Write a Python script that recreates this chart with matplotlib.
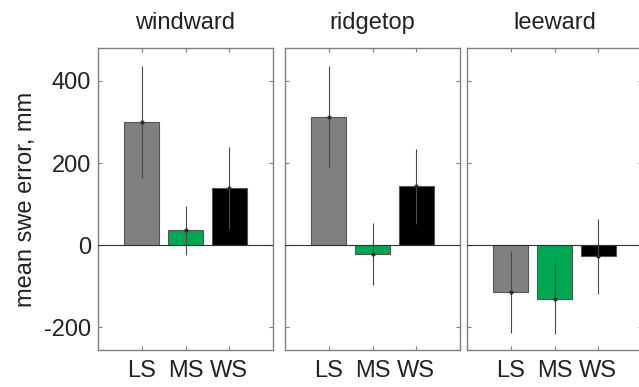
import matplotlib
matplotlib.use("Agg")
import matplotlib.pyplot as plt
import numpy as np

plt.rcParams['font.family'] = ['Liberation Sans', 'DejaVu Sans']

panels = ["windward", "ridgetop", "leeward"]
categories = ["LS", "MS", "WS"]
means = {
    "windward": [300, 36, 139],
    "ridgetop": [312, -21, 143],
    "leeward": [-113, -130, -27],
}
errors = {
    "windward": [137, 60, 100],
    "ridgetop": [123, 76, 91],
    "leeward": [100, 87, 92],
}
colors = ["#808080", "#00a651", "#000000"]
yticks = [-200, 0, 200, 400]

fig = plt.figure(figsize=(6.39, 3.87), dpi=100)
lefts = [98, 285, 467]
W, H = 639, 387
ax_w = 175
bottom_px, top_px = 350, 48
FS = 17
txt = "#222222"

spine_col = "#808080"
for i, name in enumerate(panels):
    ax = fig.add_axes([lefts[i] / W, 1 - bottom_px / H, ax_w / W, (bottom_px - top_px) / H])
    x = np.arange(1, 4)
    ax.bar(x, means[name], width=0.8, color=colors, edgecolor="#555555", linewidth=0.8, zorder=2)
    ax.errorbar(x, means[name], yerr=errors[name], fmt='o', ms=2, color="#2a2a2a",
                ecolor="#4a4a4a", elinewidth=0.8, capsize=0, zorder=3)
    ax.axhline(0, color="#333333", linewidth=0.8, zorder=4)
    ax.set_xlim(0, 4)
    ax.set_ylim(-255, 480)
    ax.set_xticks(x)
    ax.set_xticklabels(categories, fontsize=FS, color=txt)
    ax.set_yticks(yticks)
    if i == 0:
        ax.set_yticklabels([str(v) for v in yticks], fontsize=FS, color=txt)
        ax.set_ylabel("mean swe error, mm", fontsize=FS, color=txt, labelpad=5)
    else:
        ax.set_yticklabels([])
    ax.tick_params(direction="in", length=3, width=0.8, color=spine_col,
                   top=True, right=True)
    ax.tick_params(axis="x", pad=7)
    ax.tick_params(axis="y", pad=5)
    for s in ax.spines.values():
        s.set_color(spine_col)
        s.set_linewidth(1.0)
    ax.set_title(name, fontsize=FS, color=txt, pad=14)

fig.savefig("out.png", dpi=100)
